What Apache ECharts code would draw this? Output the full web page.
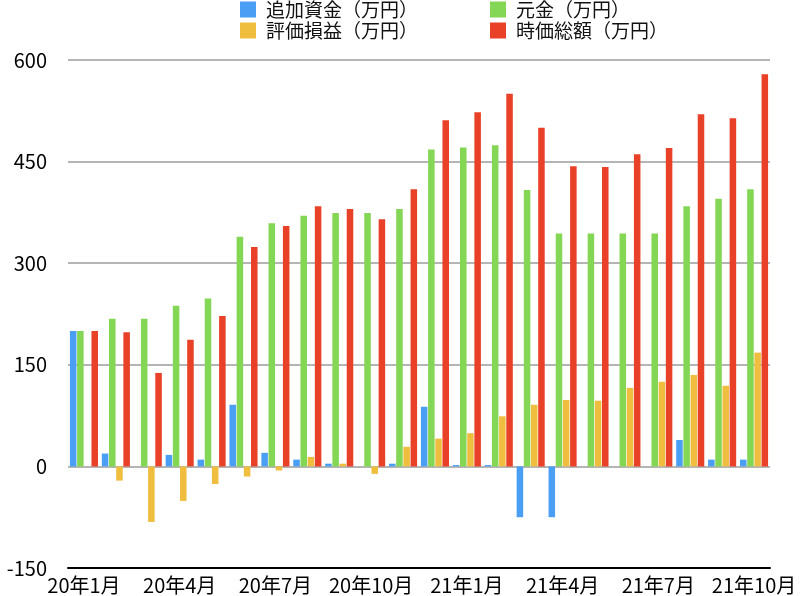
<!DOCTYPE html>
<html>
<head>
<meta charset="utf-8">
<script src="https://cdn.jsdelivr.net/npm/echarts@6/dist/echarts.min.js"></script>
<style>html,body{margin:0;padding:0;background:#fff;}#c{width:800px;height:596px;}</style>
</head>
<body>
<div id="c"></div>
<script>
const categories = ['20年1月','20年2月','20年3月','20年4月','20年5月','20年6月','20年7月','20年8月','20年9月','20年10月','20年11月','20年12月','21年1月','21年2月','21年3月','21年4月','21年5月','21年6月','21年7月','21年8月','21年9月','21年10月'];
const addFunds   = [200, 19, 0, 17, 10, 91, 20, 10, 4, 0, 4, 88, 2, 2, -75, -75, 0, 0, 0, 39, 10, 10];
const principal  = [200, 218, 218, 237, 248, 339, 359, 370, 374, 374, 380, 468, 471, 474, 408, 344, 344, 344, 344, 384, 395, 409];
const gainLoss   = [0, -21, -82, -51, -26, -15, -6, 14, 4, -11, 29, 41, 49, 74, 91, 98, 97, 116, 125, 135, 119, 168];
const marketVal  = [200, 198, 138, 187, 222, 324, 355, 384, 380, 365, 409, 511, 523, 550, 500, 443, 442, 461, 470, 520, 514, 579];
const yTicks = [-150, 0, 150, 300, 450, 600];
const seriesNames = ['追加資金（万円）','元金（万円）','評価損益（万円）','時価総額（万円）'];

const FONT = '"Noto Sans CJK JP", "Noto Sans", sans-serif';
const colors = ['#4a9ff5', '#84d655', '#f0be3e', '#e94128'];
const chart = echarts.init(document.getElementById('c'), null, {renderer: 'canvas'});
const dataSets = [addFunds, principal, gainLoss, marketVal];

const legendCommon = {
  orient: 'vertical', top: -5,
  itemWidth: 16, itemHeight: 16, itemGap: 2, icon: 'rect',
  textStyle: {fontFamily: FONT, fontSize: 19, lineHeight: 16, color: '#111', padding: [0, 0, 0, 5]},
  selectedMode: false
};

chart.setOption({
  animation: false,
  backgroundColor: '#ffffff',
  textStyle: {fontFamily: FONT},
  legend: [
    Object.assign({data: [seriesNames[0], seriesNames[2]], left: 235}, legendCommon),
    Object.assign({data: [seriesNames[1], seriesNames[3]], left: 485}, legendCommon)
  ],
  grid: {left: 68, right: 30, top: 60, bottom: 28, containLabel: false},
  xAxis: {
    type: 'category',
    data: categories,
    z: 10,
    axisLine: {show: true, onZero: false, lineStyle: {color: '#000', width: 2}},
    axisTick: {show: false},
    axisLabel: {interval: 2, fontFamily: FONT, fontSize: 20, color: '#000', margin: 7}
  },
  yAxis: {
    type: 'value',
    min: -150, max: 600, interval: 150,
    axisLine: {show: false},
    axisTick: {show: false},
    axisLabel: {fontFamily: FONT, fontSize: 20, color: '#000', margin: 21,
      formatter: v => yTicks.includes(v) ? String(v) : ''},
    splitLine: {showMinLine: false, lineStyle: {color: '#b5b5b5', width: 2}}
  },
  series: seriesNames.map((n, i) => ({
    name: n,
    type: 'bar',
    data: dataSets[i],
    itemStyle: {color: colors[i]},
    barGap: '10%',
    barCategoryGap: '12%'
  }))
});
</script>
</body>
</html>
